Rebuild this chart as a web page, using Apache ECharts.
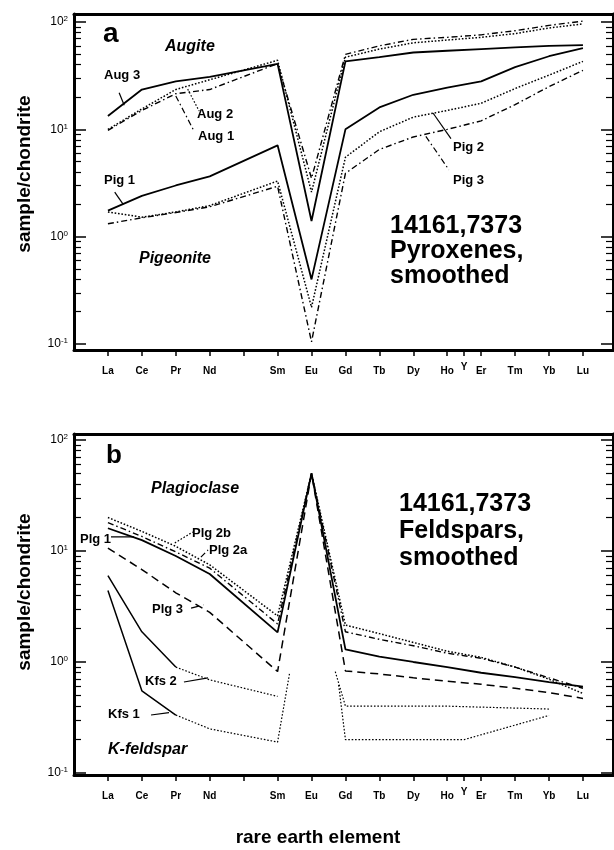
<!DOCTYPE html>
<html><head><meta charset="utf-8">
<script src="https://cdn.jsdelivr.net/npm/echarts@6/dist/echarts.min.js"></script>
<style>html,body{margin:0;padding:0;background:#fff}#c{width:614px;height:850px}</style>
</head><body><div id="c"></div>
<script>
// ---------- axis data ----------
const REE_X = [57, 58, 59, 60, 62, 63, 64, 65, 66, 67, 68, 69, 70, 71]; // La Ce Pr Nd Sm Eu Gd Tb Dy Ho Er Tm Yb Lu
const TICK_X = [57, 58, 59, 60, 61, 62, 63, 64, 65, 66, 67, 67.5, 68, 69, 70, 71];
const LABEL_X = [57, 58, 59, 60, 62, 63, 64, 65, 66, 67, 67.5, 68, 69, 70, 71];
const LABEL_TEXT = ['La', 'Ce', 'Pr', 'Nd', 'Sm', 'Eu', 'Gd', 'Tb', 'Dy', 'Ho', 'Y', 'Er', 'Tm', 'Yb', 'Lu'];
const Y_MAJOR = [0.1, 1, 10, 100];
const Y_MINOR = [0.2, 0.3, 0.4, 0.5, 0.6, 0.7, 0.8, 0.9, 2, 3, 4, 5, 6, 7, 8, 9, 20, 30, 40, 50, 60, 70, 80, 90];

// ---------- panel a: pyroxenes ----------
const aug3 = [13.3, 23.5, 28, 30.8, 40.8, 1.4, 43, 47, 52, 54, 56, 58, 60, 61];
const aug2 = [10, 15.5, 23.5, 29, 44, 2.6, 47, 56, 64, 68, 72, 78, 88, 96];
const aug1 = [9.8, 15, 21.5, 23.5, 41, 3.5, 50, 60, 69, 72, 76, 83, 93, 102];
const pig1 = [1.75, 2.4, 3.0, 3.65, 7.1, 0.4, 10, 16, 21, 24.5, 28, 38, 48, 57];
const pig2 = [1.7, 1.52, 1.7, 1.95, 3.3, 0.22, 5.5, 9.5, 13, 15, 17.5, 24, 32, 43];
const pig3 = [1.32, 1.5, 1.68, 1.9, 2.95, 0.105, 3.9, 6.5, 8.5, 10, 12, 17, 25, 35.5];

// ---------- panel b: feldspars ----------
const plg2b = [20, 15, 11, 7.5, 2.6, 50, 2.15, 1.8, 1.5, 1.25, 1.1, 0.9, 0.7, 0.52];
const plg2a = [18, 13.5, 9.8, 7, 2.2, 50, 1.87, 1.6, 1.4, 1.2, 1.08, 0.9, 0.72, 0.58];
const plg1 = [16, 12.5, 9, 6.2, 1.85, 50, 1.3, 1.12, 1.0, 0.9, 0.8, 0.73, 0.66, 0.6];
const plg3 = [10.6, 6.8, 4.2, 2.8, 0.82, 50, 0.83, 0.78, 0.72, 0.67, 0.63, 0.58, 0.53, 0.47];
const kfs1X = [57, 58, 59, 60, 62, 62.35, 63, 63.8, 64, 67.5, 70];
const kfs1 = [4.4, 0.55, 0.333, 0.25, 0.19, 0.78, null, 0.62, 0.2, 0.2, 0.33];
const kfs2X = [57, 58, 59, 60, 62, 63, 63.7, 64, 67, 70];
const kfs2 = [6.0, 1.87, 0.9, 0.69, 0.49, null, 0.82, 0.4, 0.4, 0.377];

// ---------- label leader lines (data coordinates) ----------
const leadAug3 = [[57.33, 21.9], [57.48, 16.8]];
const leadAug2 = [[59.35, 23.7], [59.69, 14.8]];
const leadAug1 = [[59.0, 20.5], [59.54, 9.6]];
const leadPig1 = [[57.2, 2.6], [57.45, 2.0]];
const leadPig2 = [[66.58, 14.2], [67.11, 8.2]];
const leadPig3 = [[66.37, 8.6], [67.05, 4.2]];
const leadPlg2b = [[58.97, 11.8], [59.5, 14.8]];
const leadPlg2a = [[59.74, 8.8], [59.95, 10.2]];
const leadPlg1 = [[57.09, 13.4], [57.77, 13.4]];
const leadPlg3 = [[59.45, 3.06], [59.83, 3.27]];
const leadKfs2 = [[59.24, 0.66], [59.95, 0.72]];
const leadKfs1 = [[58.27, 0.333], [58.8, 0.35]];

// ---------- build ----------
const FONT = '"Liberation Sans", Arial, sans-serif';
const SOLID = 'solid', DOT = [1.6, 1.8], DASHDOT = [6, 3, 1.5, 3], DASH = [8, 5];
const pairs = (xs, ys) => xs.map((x, i) => [x, ys[i] == null ? '-' : ys[i]]);
const reePairs = ys => pairs(REE_X, ys);

function ln(panel, data, type, width) {
  return {
    type: 'line', xAxisIndex: panel * 2, yAxisIndex: panel * 4, data: data,
    symbol: 'none', showSymbol: false, silent: true, animation: false, connectNulls: false,
    lineStyle: { color: '#000', width: width || 1.5, type: type }
  };
}

const grids = [
  { left: 74, right: 1, top: 14, height: 336, yMin: 0.088, yMax: 118.8 },
  { left: 74, right: 1, top: 434, height: 341, yMin: 0.096, yMax: 113 }
];
const XMIN = 56, XMAX = 56 + 539 / 33.93;

const xAxes = [], yAxes = [];
grids.forEach((g, gi) => {
  xAxes.push({
    gridIndex: gi, type: 'value', min: XMIN, max: XMAX, position: 'bottom',
    axisLine: { show: true, onZero: false, lineStyle: { color: '#000', width: 3 } },
    axisTick: { show: true, inside: false, length: 6, customValues: TICK_X, lineStyle: { color: '#000', width: 1.5 } },
    axisLabel: {
      show: true, customValues: LABEL_X, margin: 16, color: '#000',
      formatter: v => { const t = LABEL_TEXT[LABEL_X.indexOf(v)]; return t === 'Y' ? '{y|Y}' : '{n|' + t + '}'; },
      rich: {
        n: { fontFamily: FONT, fontSize: 10, fontWeight: 'bold', color: '#000' },
        y: { fontFamily: FONT, fontSize: 10, fontWeight: 'bold', color: '#000', lineHeight: 2 }
      }
    },
    splitLine: { show: false }
  });
  xAxes.push({
    gridIndex: gi, type: 'value', min: XMIN, max: XMAX, position: 'top',
    axisLine: { show: true, onZero: false, lineStyle: { color: '#000', width: 3 } },
    axisTick: { show: false }, axisLabel: { show: false }, splitLine: { show: false }
  });
  ['left', 'right'].forEach(pos => {
    yAxes.push({
      gridIndex: gi, type: 'log', logBase: 10, min: g.yMin, max: g.yMax, position: pos,
      axisLine: { show: true, onZero: false, lineStyle: { color: '#000', width: 3 } },
      axisTick: { show: true, inside: true, length: 12, customValues: Y_MAJOR, lineStyle: { color: '#000', width: 1.5 } },
      axisLabel: {
        show: pos === 'left', customValues: Y_MAJOR, margin: 6,
        formatter: v => '{b|10}{s|' + Math.round(Math.log10(v)) + '}',
        rich: {
          b: { fontFamily: FONT, fontSize: 12, color: '#000' },
          s: { fontFamily: FONT, fontSize: 8, color: '#000', padding: [0, 0, 6, 0] }
        }
      },
      splitLine: { show: false }, minorTick: { show: false }
    });
    yAxes.push({
      gridIndex: gi, type: 'log', logBase: 10, min: g.yMin, max: g.yMax, position: pos,
      axisLine: { show: false },
      axisTick: { show: true, inside: true, length: 7, customValues: Y_MINOR, lineStyle: { color: '#000', width: 1.2 } },
      axisLabel: { show: false }, splitLine: { show: false }
    });
  });
});

const series = [
  // panel a
  ln(0, reePairs(aug3), SOLID, 1.8),
  ln(0, reePairs(aug2), DOT, 1.5),
  ln(0, reePairs(aug1), DASHDOT, 1.4),
  ln(0, reePairs(pig1), SOLID, 1.8),
  ln(0, reePairs(pig2), DOT, 1.5),
  ln(0, reePairs(pig3), DASHDOT, 1.4),
  ln(0, leadAug3, SOLID, 1.2), ln(0, leadAug2, DOT, 1.2), ln(0, leadAug1, DASHDOT, 1.2),
  ln(0, leadPig1, SOLID, 1.2), ln(0, leadPig2, SOLID, 1.2), ln(0, leadPig3, DASHDOT, 1.2),
  // panel b
  ln(1, reePairs(plg2b), DOT, 1.5),
  ln(1, reePairs(plg2a), DASHDOT, 1.4),
  ln(1, reePairs(plg1), SOLID, 1.8),
  ln(1, reePairs(plg3), DASH, 1.5),
  ln(1, pairs(kfs1X.slice(0, 3), kfs1.slice(0, 3)), SOLID, 1.5),
  ln(1, pairs(kfs1X.slice(2), kfs1.slice(2)), DOT, 1.2),
  ln(1, pairs(kfs2X.slice(0, 3), kfs2.slice(0, 3)), SOLID, 1.5),
  ln(1, pairs(kfs2X.slice(2), kfs2.slice(2)), DOT, 1.2),
  ln(1, leadPlg2b, DOT, 1.2), ln(1, leadPlg2a, DASHDOT, 1.2), ln(1, leadPlg1, SOLID, 1.2),
  ln(1, leadPlg3, DASH, 1.2), ln(1, leadKfs2, SOLID, 1.2), ln(1, leadKfs1, SOLID, 1.2)
];

function txt(text, x, y, font, extra, rot) {
  return { type: 'text', x: x, y: y, rotation: rot || 0, silent: true,
    style: Object.assign({ text: text, font: font, fill: '#000', align: 'left', verticalAlign: 'middle' }, extra || {}) };
}
const B = s => 'bold ' + s + 'px ' + FONT;
const BI = s => 'italic bold ' + s + 'px ' + FONT;
const graphic = [
  txt('sample/chondrite', 25, 174, B(19), { align: 'center' }, Math.PI / 2),
  txt('sample/chondrite', 25, 592, B(19), { align: 'center' }, Math.PI / 2),
  txt('a', 103, 34, B(28)),
  txt('Augite', 165, 47, BI(16)),
  txt('Aug 3', 104, 75, B(13)),
  txt('Aug 2', 197, 114, B(13)),
  txt('Aug 1', 198, 136, B(13)),
  txt('Pig 1', 104, 180, B(13)),
  txt('Pig 2', 453, 147, B(13)),
  txt('Pig 3', 453, 180, B(13)),
  txt('Pigeonite', 139, 259, BI(16)),
  txt('14161,7373\nPyroxenes,\nsmoothed', 390, 251, B(25), { lineHeight: 25 }),
  txt('b', 106, 456, B(26)),
  txt('Plagioclase', 151, 489, BI(16)),
  txt('14161,7373\nFeldspars,\nsmoothed', 399, 531, B(25), { lineHeight: 27 }),
  txt('Plg 2b', 192, 533, B(13)),
  txt('Plg 2a', 209, 550, B(13)),
  txt('Plg 1', 80, 539, B(13)),
  txt('Plg 3', 152, 609, B(13)),
  txt('Kfs 2', 145, 681, B(13)),
  txt('Kfs 1', 108, 714, B(13)),
  txt('K-feldspar', 108, 750, BI(16)),
  txt('rare earth element', 318, 838, B(19), { align: 'center' })
];

const chart = echarts.init(document.getElementById('c'), null, { renderer: 'canvas' });
chart.setOption({
  animation: false,
  backgroundColor: '#fff',
  grid: grids.map(g => ({ left: g.left, right: g.right, top: g.top, height: g.height })),
  xAxis: xAxes, yAxis: yAxes, series: series, graphic: graphic
});
</script></body></html>
